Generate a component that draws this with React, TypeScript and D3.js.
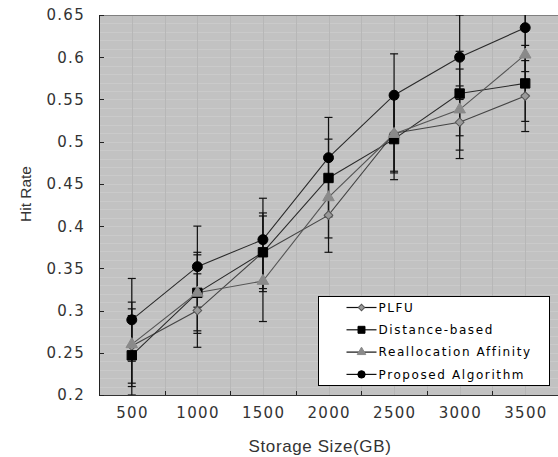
import React, { useEffect, useRef } from "react";
import * as d3 from "d3";

// storage sizes (GB) on the x axis
const sizes = [500, 1000, 1500, 2000, 2500, 3000, 3500];

// hit rate per series
const plfuRate = [0.258, 0.3, 0.369, 0.413, 0.51, 0.523, 0.554];
const distanceRate = [0.247, 0.321, 0.369, 0.457, 0.503, 0.557, 0.569];
const reallocRate = [0.26, 0.321, 0.335, 0.434, 0.509, 0.538, 0.603];
const proposedRate = [0.289, 0.352, 0.384, 0.481, 0.555, 0.6, 0.635];

// half-width of the error bars
const plfuErr = [0.044, 0.0435, 0.043, 0.044, 0.045, 0.043, 0.042];
const distanceErr = [0.047, 0.048, 0.0466, 0.046, 0.048, 0.05, 0.045];
const reallocErr = [0.05, 0.045, 0.048, 0.048, 0.046, 0.048, 0.048];
const proposedErr = [0.049, 0.048, 0.049, 0.0477, 0.049, 0.05, 0.052];

const seriesNames = ["PLFU", "Distance-based", "Reallocation Affinity", "Proposed Algorithm"];
const yTicks = [0.2, 0.25, 0.3, 0.35, 0.4, 0.45, 0.5, 0.55, 0.6, 0.65];

const W = 558;
const H = 457;

const App = () => {
    const svgRef = useRef<SVGSVGElement | null>(null);

    useEffect(() => {
        const svg = d3.select(svgRef.current);
        svg.selectAll("*").remove();

        const left = 99, right = 558, top = 15, bottom = 395;
        const x = d3.scaleLinear().domain([250, 3750]).range([left, right]);
        const y = d3.scaleLinear().domain([0.2, 0.65]).range([bottom, top]);

        const series = [
            { name: seriesNames[0], values: plfuRate, err: plfuErr, shape: "diamond", fill: "#9a9a9a", stroke: "#555", line: "#444" },
            { name: seriesNames[1], values: distanceRate, err: distanceErr, shape: "square", fill: "#000", stroke: "#000", line: "#2a2a2a" },
            { name: seriesNames[2], values: reallocRate, err: reallocErr, shape: "triangle", fill: "#8a8a8a", stroke: "#8a8a8a", line: "#555" },
            { name: seriesNames[3], values: proposedRate, err: proposedErr, shape: "circle", fill: "#000", stroke: "#000", line: "#2a2a2a" },
        ];

        const symbolPath = (shape: string, scale: number) => {
            if (shape === "diamond") return d3.symbol().type(d3.symbolSquare).size(38 * scale)();
            if (shape === "square") return d3.symbol().type(d3.symbolSquare).size(88 * scale)();
            if (shape === "triangle") return d3.symbol().type(d3.symbolTriangle).size(58 * scale)();
            return d3.symbol().type(d3.symbolCircle).size(78 * scale)();
        };

        svg.append("defs")
            .append("clipPath")
            .attr("id", "plot-clip")
            .append("rect")
            .attr("x", left)
            .attr("y", top)
            .attr("width", right - left)
            .attr("height", bottom - top);

        // plot background
        svg.append("rect")
            .attr("x", left)
            .attr("y", top)
            .attr("width", right - left)
            .attr("height", bottom - top)
            .attr("fill", "#c2c2c2");

        // horizontal grid every 0.01
        const hGrid = d3.range(21, 65).map((d) => d / 100);
        svg.append("g")
            .selectAll("line")
            .data(hGrid)
            .enter()
            .append("line")
            .attr("x1", left)
            .attr("x2", right)
            .attr("y1", (d) => Math.round(y(d)) + 0.5)
            .attr("y2", (d) => Math.round(y(d)) + 0.5)
            .attr("stroke", "#cacaca")
            .attr("stroke-width", 1);

        // vertical grid every 250
        const vGrid = d3.range(500, 3750, 250);
        svg.append("g")
            .selectAll("line")
            .data(vGrid)
            .enter()
            .append("line")
            .attr("x1", (d) => Math.round(x(d)) + 0.5)
            .attr("x2", (d) => Math.round(x(d)) + 0.5)
            .attr("y1", top)
            .attr("y2", bottom)
            .attr("stroke", "#b7b7b7")
            .attr("stroke-width", 1);

        // frame
        svg.append("line").attr("x1", left).attr("x2", right).attr("y1", top + 0.5).attr("y2", top + 0.5).attr("stroke", "#808080");
        svg.append("line").attr("x1", left + 0.5).attr("x2", left + 0.5).attr("y1", top).attr("y2", bottom).attr("stroke", "#222");
        svg.append("line").attr("x1", left).attr("x2", right).attr("y1", bottom + 0.5).attr("y2", bottom + 0.5).attr("stroke", "#333");

        // y ticks (inward) and labels
        svg.append("g")
            .selectAll("line")
            .data(yTicks)
            .enter()
            .append("line")
            .attr("x1", left)
            .attr("x2", left + 5)
            .attr("y1", (d) => Math.round(y(d)) + 0.5)
            .attr("y2", (d) => Math.round(y(d)) + 0.5)
            .attr("stroke", "#222");
        svg.append("g")
            .selectAll("text")
            .data(yTicks)
            .enter()
            .append("text")
            .attr("x", 85)
            .attr("y", (d) => y(d))
            .attr("dy", "0.36em")
            .attr("text-anchor", "end")
            .attr("font-family", "DejaVu Sans")
            .attr("font-size", 15)
            .attr("letter-spacing", 1.3)
            .attr("fill", "#333")
            .text((d) => String(d));

        // x ticks between categories (inward) and labels
        const xTicks = d3.range(750, 3750, 500);
        svg.append("g")
            .selectAll("line")
            .data(xTicks)
            .enter()
            .append("line")
            .attr("x1", (d) => Math.round(x(d)) + 0.5)
            .attr("x2", (d) => Math.round(x(d)) + 0.5)
            .attr("y1", bottom)
            .attr("y2", bottom - 4)
            .attr("stroke", "#222");
        svg.append("g")
            .selectAll("text")
            .data(sizes)
            .enter()
            .append("text")
            .attr("x", (d) => x(d) + 0.7)
            .attr("y", 418)
            .attr("text-anchor", "middle")
            .attr("font-family", "DejaVu Sans")
            .attr("font-size", 15)
            .attr("letter-spacing", 1.3)
            .attr("fill", "#333")
            .text((d) => String(d));

        // axis titles
        svg.append("text")
            .attr("x", 320)
            .attr("y", 452)
            .attr("text-anchor", "middle")
            .attr("font-family", "Liberation Sans")
            .attr("font-size", 17)
            .attr("letter-spacing", 0.6)
            .attr("fill", "#333")
            .text("Storage Size(GB)");
        svg.append("text")
            .attr("transform", "translate(31,194) rotate(-90)")
            .attr("text-anchor", "middle")
            .attr("font-family", "Liberation Sans")
            .attr("font-size", 15.5)
            .attr("fill", "#333")
            .text("Hit Rate");

        const plot = svg.append("g").attr("clip-path", "url(#plot-clip)");

        // error bars
        series.forEach((s) => {
            const g = plot.append("g");
            s.values.forEach((v, i) => {
                const cx = x(sizes[i]);
                const y0 = y(v - s.err[i]);
                const y1 = y(v + s.err[i]);
                g.append("line").attr("x1", cx).attr("x2", cx).attr("y1", y0).attr("y2", y1).attr("stroke", "#111").attr("stroke-width", 1.2);
                [y0, y1].forEach((yy) => {
                    g.append("line").attr("x1", cx - 4).attr("x2", cx + 4).attr("y1", yy).attr("y2", yy).attr("stroke", "#111").attr("stroke-width", 1.2);
                });
            });
        });

        // lines
        const line = d3
            .line<number>()
            .x((d, i) => x(sizes[i]))
            .y((d) => y(d));
        series.forEach((s) => {
            plot.append("path")
                .datum(s.values)
                .attr("fill", "none")
                .attr("stroke", s.line)
                .attr("stroke-width", 1.1)
                .attr("d", line);
        });

        // markers
        series.forEach((s) => {
            plot.append("g")
                .selectAll("path")
                .data(s.values)
                .enter()
                .append("path")
                .attr("d", symbolPath(s.shape, 1))
                .attr("transform", (d, i) => `translate(${x(sizes[i])},${y(d)})${s.shape === "diamond" ? " rotate(45)" : ""}`)
                .attr("fill", s.fill)
                .attr("stroke", s.stroke)
                .attr("stroke-width", 1);
        });

        // legend
        const lg = svg.append("g").attr("transform", "translate(318.5,296.5)");
        lg.append("rect").attr("width", 231).attr("height", 89).attr("fill", "#fff").attr("stroke", "#000").attr("stroke-width", 1);
        series.forEach((s, i) => {
            const cy = 11 + i * 22.3;
            lg.append("line").attr("x1", 28).attr("x2", 58).attr("y1", cy).attr("y2", cy).attr("stroke", "#111").attr("stroke-width", 1.2);
            lg.append("path")
                .attr("d", symbolPath(s.shape, 0.55))
                .attr("transform", `translate(43,${cy})${s.shape === "diamond" ? " rotate(45)" : ""}`)
                .attr("fill", s.fill)
                .attr("stroke", s.stroke)
                .attr("stroke-width", 1);
            lg.append("text")
                .attr("x", 60)
                .attr("y", cy)
                .attr("dy", "0.36em")
                .attr("font-family", "DejaVu Sans")
                .attr("font-size", 12)
                .attr("letter-spacing", 1.6)
                .attr("fill", "#000")
                .text(s.name);
        });
    }, []);

    return (
        <div style={{ position: "absolute", left: 0, top: 0, width: W, height: H, background: "#fff" }}>
            <svg ref={svgRef} width={W} height={H}></svg>
        </div>
    );
};

export default App;
